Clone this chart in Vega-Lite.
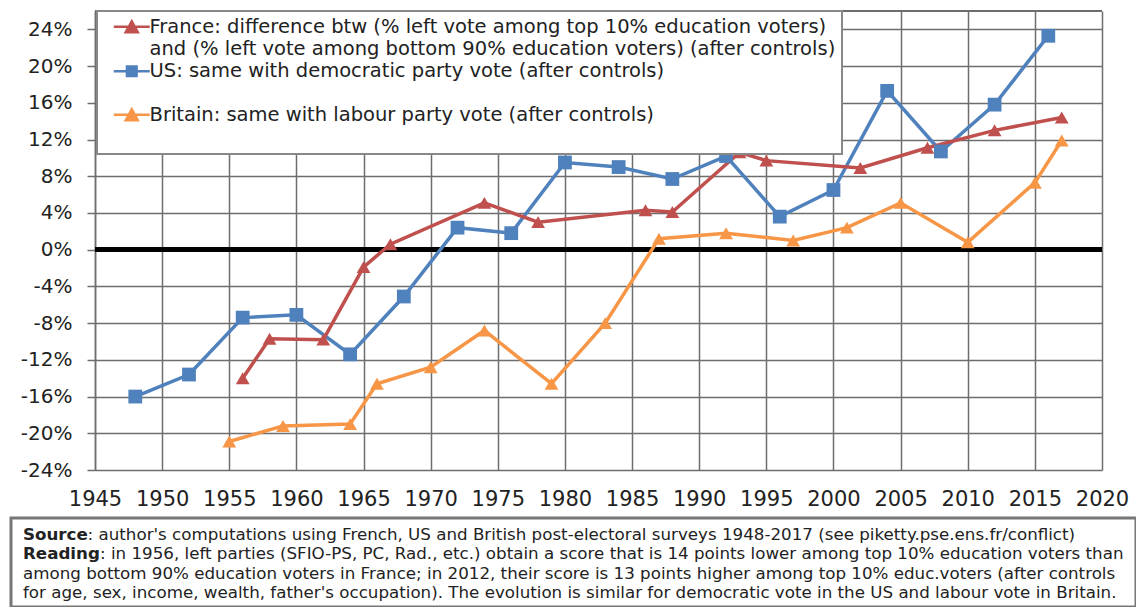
{
  "$schema": "https://vega.github.io/schema/vega-lite/v6.json",
  "background": "white",
  "padding": {"left": 9, "top": 10, "right": 0, "bottom": 0},
  "config": {"font": "DejaVu Sans"},
  "columns": 1,
  "align": "none",
  "spacing": 7,
  "concat": [
    {
      "width": 1091,
      "height": 459,
      "view": {"stroke": null},
      "data": {"values": [
        {"country": "US", "year": 1948, "v": -16.0},
        {"country": "US", "year": 1952, "v": -13.6},
        {"country": "US", "year": 1956, "v": -7.4},
        {"country": "US", "year": 1960, "v": -7.1},
        {"country": "US", "year": 1964, "v": -11.4},
        {"country": "US", "year": 1968, "v": -5.1},
        {"country": "US", "year": 1972, "v": 2.4},
        {"country": "US", "year": 1976, "v": 1.8},
        {"country": "US", "year": 1980, "v": 9.5},
        {"country": "US", "year": 1984, "v": 9.0},
        {"country": "US", "year": 1988, "v": 7.7},
        {"country": "US", "year": 1992, "v": 10.2},
        {"country": "US", "year": 1996, "v": 3.6},
        {"country": "US", "year": 2000, "v": 6.5},
        {"country": "US", "year": 2004, "v": 17.3},
        {"country": "US", "year": 2008, "v": 10.7},
        {"country": "US", "year": 2012, "v": 15.8},
        {"country": "US", "year": 2016, "v": 23.3},
        {"country": "France", "year": 1956, "v": -14.0},
        {"country": "France", "year": 1958, "v": -9.7},
        {"country": "France", "year": 1962, "v": -9.8},
        {"country": "France", "year": 1965, "v": -1.9},
        {"country": "France", "year": 1967, "v": 0.6},
        {"country": "France", "year": 1974, "v": 5.1},
        {"country": "France", "year": 1978, "v": 3.0},
        {"country": "France", "year": 1986, "v": 4.3},
        {"country": "France", "year": 1988, "v": 4.1},
        {"country": "France", "year": 1993, "v": 10.6},
        {"country": "France", "year": 1995, "v": 9.7},
        {"country": "France", "year": 2002, "v": 8.9},
        {"country": "France", "year": 2007, "v": 11.1},
        {"country": "France", "year": 2012, "v": 13.0},
        {"country": "France", "year": 2017, "v": 14.4},
        {"country": "Britain", "year": 1955, "v": -20.9},
        {"country": "Britain", "year": 1959, "v": -19.2},
        {"country": "Britain", "year": 1964, "v": -19.0},
        {"country": "Britain", "year": 1966, "v": -14.6},
        {"country": "Britain", "year": 1970, "v": -12.8},
        {"country": "Britain", "year": 1974, "v": -8.8},
        {"country": "Britain", "year": 1979, "v": -14.6},
        {"country": "Britain", "year": 1983, "v": -8.0},
        {"country": "Britain", "year": 1987, "v": 1.2},
        {"country": "Britain", "year": 1992, "v": 1.8},
        {"country": "Britain", "year": 1997, "v": 1.0},
        {"country": "Britain", "year": 2001, "v": 2.4},
        {"country": "Britain", "year": 2005, "v": 5.1},
        {"country": "Britain", "year": 2010, "v": 0.8},
        {"country": "Britain", "year": 2015, "v": 7.3},
        {"country": "Britain", "year": 2017, "v": 11.9}
      ]},
      "encoding": {
        "x": {
          "field": "year", "type": "quantitative",
          "scale": {"domain": [1945, 2020], "range": [84, 1091], "nice": false, "zero": false},
          "axis": {
            "values": [1945, 1950, 1955, 1960, 1965, 1970, 1975, 1980, 1985, 1990, 1995, 2000, 2005, 2010, 2015, 2020],
            "format": "d", "title": null, "grid": true, "gridColor": "#6e6e6e", "gridWidth": 1.5,
            "ticks": false, "domain": false, "labelFontSize": 21, "labelColor": "#222",
            "labelPadding": 18, "labelFlush": false
          }
        },
        "y": {
          "field": "v", "type": "quantitative",
          "scale": {"domain": [-24, 26], "nice": false, "zero": false},
          "axis": {
            "values": [-24, -20, -16, -12, -8, -4, 0, 4, 8, 12, 16, 20, 24],
            "labelExpr": "datum.value + '%'", "title": null, "grid": true, "gridColor": "#6e6e6e", "gridWidth": 1.5,
            "tickSize": 8, "tickColor": "#6e6e6e", "tickWidth": 1.5, "domainColor": "#6e6e6e", "domainWidth": 1.5,
            "labelFontSize": 20, "labelColor": "#222", "labelPadding": 15, "offset": -84
          }
        }
      },
      "layer": [
        {
          "mark": {"type": "rule", "color": "#6e6e6e", "strokeWidth": 1.5},
          "encoding": {"y": {"datum": 26}, "x": {"datum": 1945}, "x2": {"datum": 2020}}
        },
        {
          "mark": {"type": "rule", "color": "black", "strokeWidth": 4},
          "encoding": {"y": {"datum": 0}, "x": {"datum": 1945}, "x2": {"datum": 2020}}
        },
        {
          "mark": {"type": "line", "strokeWidth": 3.5},
          "encoding": {
            "color": {
              "field": "country", "type": "nominal",
              "scale": {
                "domain": ["France", "France2", "US", "Blank", "Britain", "Blank2"],
                "range": ["#C0504D", "transparent", "#4F81BD", "transparent", "#F79646", "transparent"]
              },
              "legend": {
                "orient": "none", "legendX": 86, "legendY": 0, "title": null,
                "padding": 6, "fillColor": "white", "strokeColor": "#888",
                "labelFontSize": 19.5, "labelColor": "#222", "labelOffset": 27, "labelLimit": 900,
                "symbolSize": 144, "rowPadding": 0.25,
                "labelExpr": "datum.value === 'France' ? 'France: difference btw (% left vote among top 10% education voters)' : datum.value === 'France2' ? 'and (% left vote among bottom 90% education voters) (after controls)\u00a0\u00a0' : datum.value === 'US' ? 'US: same with democratic party vote (after controls)' : datum.value === 'Britain' ? 'Britain: same with labour party vote (after controls)' : ''",
                "encode": {
                  "legend": {"update": {"strokeWidth": {"value": 2}}},
                  "symbols": {
                    "update": {
                      "shape": {"signal": "datum.value === 'US' ? 'M0.17,0H6.17M2.37,-0.8H3.97V0.8H2.37Z' : 'M0.17,0H6.17M2.17,0.9L3.17,-0.9L4.17,0.9Z'"},
                      "fill": {"signal": "scale('color', datum.value)"},
                      "stroke": {"signal": "scale('color', datum.value)"},
                      "strokeWidth": {"value": 2.5},
                      "opacity": {"value": 1}
                    }
                  }
                }
              }
            },
            "detail": {"field": "country"}
          }
        },
        {
          "mark": {"type": "point", "filled": true, "opacity": 1},
          "encoding": {
            "color": {"field": "country", "type": "nominal"},
            "shape": {
              "field": "country", "type": "nominal",
              "scale": {"domain": ["France", "US", "Britain"], "range": ["triangle-up", "square", "triangle-up"]},
              "legend": null
            },
            "size": {"value": 190}
          }
        }
      ]
    },
    {
      "width": 1125,
      "height": 89,
      "view": {"stroke": "#777", "strokeWidth": 3},
      "data": {"values": [
        {"line": 1, "bold": "Source", "rest": ": author's computations using French, US and British post-electoral surveys 1948-2017 (see piketty.pse.ens.fr/conflict)"},
        {"line": 2, "bold": "Reading", "rest": ": in 1956, left parties (SFIO-PS, PC, Rad., etc.) obtain a score that is 14 points lower among top 10% education voters than"},
        {"line": 3, "bold": "", "rest": "among bottom 90% education voters in France; in 2012, their score is 13 points higher among top 10% educ.voters (after controls"},
        {"line": 4, "bold": "", "rest": "for age, sex, income, wealth, father's occupation). The evolution is similar for democratic vote in the US and labour vote in Britain."}
      ]},
      "encoding": {
        "x": {"value": 12},
        "y": {"field": "line", "type": "quantitative", "scale": {"domain": [0.15, 4.7], "reverse": true, "nice": false, "zero": false}, "axis": null}
      },
      "layer": [
        {
          "mark": {"type": "text", "align": "left", "baseline": "middle", "fontWeight": "bold", "fontSize": 16.7, "color": "#222"},
          "encoding": {"text": {"field": "bold"}}
        },
        {
          "transform": [{"filter": "datum.line == 1"}],
          "mark": {"type": "text", "align": "left", "baseline": "middle", "fontSize": 16.7, "color": "#222", "dx": 64.6},
          "encoding": {"text": {"field": "rest"}}
        },
        {
          "transform": [{"filter": "datum.line == 2"}],
          "mark": {"type": "text", "align": "left", "baseline": "middle", "fontSize": 16.7, "color": "#222", "dx": 77},
          "encoding": {"text": {"field": "rest"}}
        },
        {
          "transform": [{"filter": "datum.line > 2"}],
          "mark": {"type": "text", "align": "left", "baseline": "middle", "fontSize": 16.7, "color": "#222"},
          "encoding": {"text": {"field": "rest"}}
        }
      ]
    }
  ]
}
